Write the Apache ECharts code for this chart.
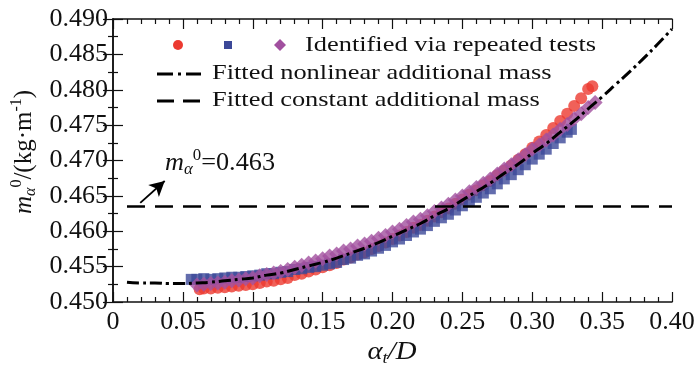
<!DOCTYPE html>
<html>
<head>
<meta charset="utf-8">
<script src="https://cdn.jsdelivr.net/npm/echarts@6/dist/echarts.min.js"></script>
<style>
  html, body { margin: 0; padding: 0; background: #fff; }
  #chart { width: 700px; height: 370px; }
</style>
</head>
<body>
<div id="chart"></div>
<script>
// identified values, three repeated tests
const redX = [0.062, 0.065, 0.070, 0.075, 0.080, 0.085, 0.090, 0.095, 0.100, 0.105, 0.110,
  0.115, 0.120, 0.125, 0.130, 0.135, 0.140, 0.145, 0.150, 0.155, 0.160,
  0.165, 0.170, 0.175, 0.180, 0.185, 0.190, 0.195, 0.200, 0.205, 0.210,
  0.215, 0.220, 0.225, 0.230, 0.235, 0.240, 0.245, 0.250, 0.255, 0.260,
  0.265, 0.270, 0.275, 0.280, 0.285, 0.290, 0.295, 0.300, 0.305, 0.310,
  0.315, 0.320, 0.325, 0.330, 0.335, 0.340, 0.343];
const redY = [0.4518, 0.4519, 0.4519, 0.4520, 0.4521, 0.4522, 0.4523, 0.4524, 0.4525, 0.4527, 0.4529,
  0.4530, 0.4532, 0.4534, 0.4538, 0.4540, 0.4543, 0.4546, 0.4549, 0.4552, 0.4555,
  0.4560, 0.4563, 0.4567, 0.4570, 0.4575, 0.4579, 0.4584, 0.4589, 0.4594, 0.4599,
  0.4605, 0.4609, 0.4615, 0.4621, 0.4627, 0.4632, 0.4639, 0.4645, 0.4652, 0.4658,
  0.4665, 0.4671, 0.4679, 0.4686, 0.4693, 0.4701, 0.4709, 0.4718, 0.4727, 0.4736,
  0.4746, 0.4756, 0.4766, 0.4777, 0.4788, 0.4801, 0.4805];

const blueX = [0.056, 0.060, 0.065, 0.070, 0.075, 0.080, 0.085, 0.090, 0.095, 0.100, 0.105,
  0.110, 0.115, 0.120, 0.125, 0.130, 0.135, 0.140, 0.145, 0.150, 0.155,
  0.160, 0.165, 0.170, 0.175, 0.180, 0.185, 0.190, 0.195, 0.200, 0.205,
  0.210, 0.215, 0.220, 0.225, 0.230, 0.235, 0.240, 0.245, 0.250, 0.255,
  0.260, 0.265, 0.270, 0.275, 0.280, 0.285, 0.290, 0.295, 0.300, 0.305,
  0.310, 0.315, 0.320, 0.325, 0.328];
const blueY = [0.4532, 0.4532, 0.4533, 0.4532, 0.4533, 0.4534, 0.4535, 0.4535, 0.4536, 0.4537, 0.4538,
  0.4540, 0.4540, 0.4542, 0.4543, 0.4546, 0.4547, 0.4549, 0.4550, 0.4552, 0.4554,
  0.4556, 0.4560, 0.4562, 0.4566, 0.4568, 0.4572, 0.4576, 0.4580, 0.4585, 0.4589,
  0.4594, 0.4599, 0.4603, 0.4608, 0.4614, 0.4619, 0.4624, 0.4630, 0.4636, 0.4642,
  0.4648, 0.4654, 0.4660, 0.4667, 0.4674, 0.4680, 0.4687, 0.4694, 0.4702, 0.4709,
  0.4716, 0.4724, 0.4732, 0.4740, 0.4744];

const purpleX = [0.060, 0.065, 0.070, 0.075, 0.080, 0.085, 0.090, 0.095, 0.100, 0.105,
  0.110, 0.115, 0.120, 0.125, 0.130, 0.135, 0.140, 0.145, 0.150, 0.155,
  0.160, 0.165, 0.170, 0.175, 0.180, 0.185, 0.190, 0.195, 0.200, 0.205,
  0.210, 0.215, 0.220, 0.225, 0.230, 0.235, 0.240, 0.245, 0.250, 0.255,
  0.260, 0.265, 0.270, 0.275, 0.280, 0.285, 0.290, 0.295, 0.300, 0.305,
  0.310, 0.315, 0.320, 0.325, 0.330, 0.335, 0.340, 0.345];
const purpleY = [0.4524, 0.4525, 0.4526, 0.4527, 0.4528, 0.4530, 0.4531, 0.4533, 0.4534, 0.4537,
  0.4539, 0.4541, 0.4543, 0.4546, 0.4549, 0.4552, 0.4555, 0.4558, 0.4561, 0.4565,
  0.4568, 0.4572, 0.4575, 0.4579, 0.4582, 0.4586, 0.4590, 0.4594, 0.4599, 0.4603,
  0.4608, 0.4613, 0.4617, 0.4622, 0.4628, 0.4633, 0.4638, 0.4644, 0.4650, 0.4656,
  0.4662, 0.4668, 0.4674, 0.4681, 0.4688, 0.4694, 0.4701, 0.4708, 0.4716, 0.4722,
  0.4729, 0.4736, 0.4744, 0.4751, 0.4759, 0.4766, 0.4775, 0.4782];

// fitted nonlinear additional mass
const fitX = [0.01, 0.02, 0.03, 0.04, 0.05, 0.06, 0.07, 0.08, 0.09, 0.10,
  0.11, 0.12, 0.13, 0.14, 0.15, 0.16, 0.17, 0.18, 0.19, 0.20,
  0.21, 0.22, 0.23, 0.24, 0.25, 0.26, 0.27, 0.28, 0.29, 0.30,
  0.31, 0.32, 0.33, 0.34, 0.35, 0.36, 0.37, 0.38, 0.39, 0.40];
const fitY = [0.4528, 0.4527, 0.4527, 0.4526, 0.4526, 0.4527, 0.4528, 0.4530, 0.4532, 0.4534,
  0.4538, 0.4541, 0.4546, 0.4551, 0.4556, 0.4562, 0.4569, 0.4576, 0.4584, 0.4593,
  0.4602, 0.4611, 0.4622, 0.4632, 0.4644, 0.4656, 0.4668, 0.4682, 0.4695, 0.4710,
  0.4724, 0.4740, 0.4756, 0.4773, 0.4790, 0.4808, 0.4826, 0.4845, 0.4865, 0.4886];

// fitted constant additional mass
const constX = [0.01, 0.40];
const constValue = 0.4635;

const arrowFrom = [0.0195, 0.4640];
const arrowTo = [0.037, 0.4671];

const legendText = [
  "Identified via repeated tests",
  "Fitted nonlinear additional mass",
  "Fitted constant additional mass",
];

const RED = "#ec3a30";
const BLUE = "#3c4898";
const PURPLE = "#a1509f";
const SERIF = "'Liberation Serif', 'Times New Roman', serif";

const zip = (xs, ys) => xs.map((x, i) => [x, ys[i]]);

const axisLine = { lineStyle: { color: "#111", width: 1.5 } };
const tickStyle = { color: "#111", width: 1.2 };

function xAxisCfg(pos, showLabel) {
  return {
    type: "value",
    position: pos,
    min: 0,
    max: 0.4,
    interval: 0.05,
    axisLine: axisLine,
    axisTick: { inside: true, length: 10, lineStyle: tickStyle },
    minorTick: { show: true, splitNumber: 5, length: 5, lineStyle: tickStyle },
    splitLine: { show: false },
    axisLabel: {
      show: showLabel,
      margin: 7,
      color: "#111",
      fontSize: 26,
      fontFamily: SERIF,
      formatter: (v) => (v === 0 ? "0" : v.toFixed(2)),
    },
  };
}

function yAxisCfg(pos, showLabel) {
  return {
    type: "value",
    position: pos,
    min: 0.45,
    max: 0.49,
    interval: 0.005,
    axisLine: axisLine,
    axisTick: { inside: true, length: 10, lineStyle: tickStyle },
    minorTick: { show: true, splitNumber: 2, length: 5, lineStyle: tickStyle },
    splitLine: { show: false },
    axisLabel: {
      show: showLabel,
      margin: 5,
      color: "#111",
      fontSize: 26,
      fontFamily: SERIF,
      formatter: (v) => v.toFixed(3),
    },
  };
}

const chart = echarts.init(document.getElementById("chart"), null, { renderer: "canvas" });

const rich = {
  i: { fontFamily: SERIF, fontStyle: "italic", fontSize: 25, lineHeight: 30, fill: "#111" },
  n: { fontFamily: SERIF, fontSize: 25, lineHeight: 30, fill: "#111" },
  sub: { fontFamily: SERIF, fontStyle: "italic", fontSize: 16, lineHeight: 14, verticalAlign: "bottom", fill: "#111" },
  sup: { fontFamily: SERIF, fontSize: 16, lineHeight: 16, verticalAlign: "top", fill: "#111" },
};

chart.setOption({
  animation: false,
  backgroundColor: "#fff",
  grid: { left: 113, right: 28, top: 19, bottom: 68, containLabel: false, outerBoundsMode: "none" },
  xAxis: [xAxisCfg("bottom", true), xAxisCfg("top", false)],
  yAxis: [yAxisCfg("left", true), yAxisCfg("right", false)],
  series: [
    {
      type: "scatter",
      data: zip(redX, redY),
      symbol: "circle",
      symbolSize: 12,
      itemStyle: { color: RED },
      z: 2,
    },
    {
      type: "scatter",
      data: zip(blueX, blueY),
      symbol: "rect",
      symbolSize: 11,
      itemStyle: { color: BLUE },
      z: 3,
    },
    {
      type: "scatter",
      data: zip(purpleX, purpleY),
      symbol: "diamond",
      symbolSize: 15,
      itemStyle: { color: PURPLE },
      z: 4,
    },
    {
      type: "line",
      data: zip(fitX, fitY),
      smooth: true,
      showSymbol: false,
      lineStyle: { color: "#000", width: 3, type: [12, 4, 3, 4] },
      z: 6,
    },
    {
      type: "line",
      data: constX.map((x) => [x, constValue]),
      showSymbol: false,
      lineStyle: { color: "#000", width: 2.5, type: [18, 10] },
      z: 6,
      markLine: {
        silent: true,
        symbol: ["none", "arrow"],
        symbolSize: [12, 15],
        label: { show: false },
        lineStyle: { color: "#000", width: 1.8, type: "solid" },
        data: [[{ coord: arrowFrom }, { coord: arrowTo }]],
      },
    },
  ],
  graphic: [
    // legend
    { type: "circle", shape: { cx: 178, cy: 45, r: 5 }, style: { fill: RED } },
    { type: "rect", shape: { x: 224, y: 41, width: 8, height: 8 }, style: { fill: BLUE } },
    { type: "polygon", shape: { points: [[280, 39], [286, 45], [280, 51], [274, 45]] }, style: { fill: PURPLE } },
    {
      type: "text", x: 305, y: 45, scaleX: 1.2,
      style: { text: legendText[0], font: "22px " + SERIF, fill: "#111", verticalAlign: "middle" },
    },
    {
      type: "line", shape: { x1: 157, y1: 74, x2: 201, y2: 74 },
      style: { stroke: "#000", lineWidth: 3, lineDash: [16, 5, 3, 5] },
    },
    {
      type: "text", x: 212, y: 73, scaleX: 1.2,
      style: { text: legendText[1], font: "22px " + SERIF, fill: "#111", verticalAlign: "middle" },
    },
    {
      type: "line", shape: { x1: 157, y1: 101, x2: 201, y2: 101 },
      style: { stroke: "#000", lineWidth: 3, lineDash: [17, 9] },
    },
    {
      type: "text", x: 212, y: 100, scaleX: 1.2,
      style: { text: legendText[2], font: "22px " + SERIF, fill: "#111", verticalAlign: "middle" },
    },
    // annotation of constant value
    {
      type: "text", x: 165, y: 163, scaleX: 1.05,
      style: {
        text: "{i|m}{sub|α}{sup|0}{n|=0.463}",
        rich: rich,
        verticalAlign: "middle",
      },
    },
    // y axis title
    {
      type: "text", x: 24, y: 152, rotation: Math.PI / 2,
      style: {
        text: "{i|m}{sub|α}{sup|0}{n|/(kg·m}{sup|-1}{n|)}",
        rich: rich,
        align: "center",
        verticalAlign: "middle",
      },
    },
    // x axis title
    {
      type: "text", x: 392, y: 352, scaleX: 1.15,
      style: {
        text: "{i|α}{sub|t}{i|/D}",
        rich: rich,
        align: "center",
        verticalAlign: "middle",
      },
    },
  ],
});

window.addEventListener("resize", () => chart.resize());
</script>
</body>
</html>
